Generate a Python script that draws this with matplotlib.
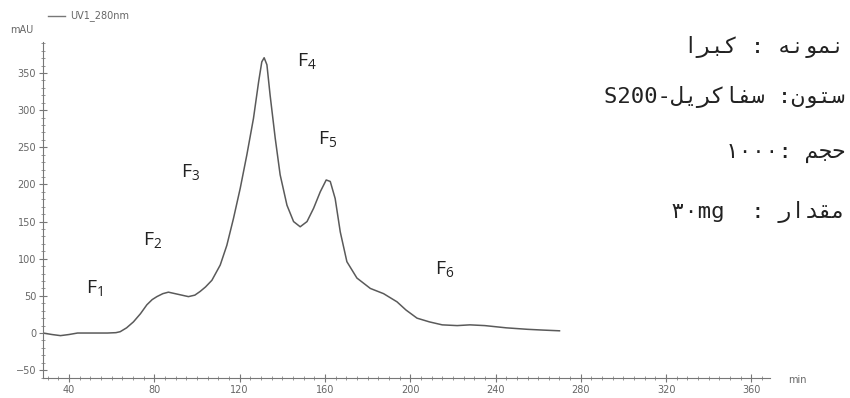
import matplotlib
matplotlib.use("Agg")
import matplotlib.pyplot as plt
from matplotlib.ticker import MultipleLocator

# chromatogram (time in min, absorbance in mAU)
time_min = [27.8, 32, 36, 40, 44, 50, 58, 62, 64.0, 67, 70.2, 73.5, 76.5, 79, 81.2, 84, 86.6,
            91.3, 96.0, 99, 101.5, 104, 107, 110.9, 114.0, 117.1, 120.3, 123.4, 126.5, 128.9,
            130.4, 131.5, 132.8, 134.3, 136.7, 139.0, 142.2, 145.3, 148.4, 151.6, 154.7, 157.8,
            160.6, 162.5, 164.8, 167.2, 170.3, 175.0, 181.3, 187.5, 193.8, 198, 203.2, 209,
            215, 222, 228, 235, 245, 255, 262, 270]
uv_mau = [0, -2, -3.5, -2, 0, 0, 0, 0.5, 1.8, 7, 15, 26, 38, 45, 49, 53, 55,
          52, 49, 51, 56, 62, 71, 91.5, 118, 154, 195, 240, 289, 338,
          365, 370.5, 361, 320, 262, 213, 172, 150, 143, 150, 168, 190,
          206, 204, 181, 136, 96, 74, 60, 53, 42, 31, 20, 15,
          11, 10, 11, 10, 7, 5, 4, 3]

peak_names = ["1", "2", "3", "4", "5", "6"]
peak_x = [52, 79, 97, 151.5, 161.5, 216]
peak_y = [60, 124, 216, 365, 260, 85]

info_lines = ["نمونه : کبرا", "ستون: سفاکریل-S200", "حجم :۱۰۰۰", "مقدار :  ۳۰mg"]

# simple Persian shaping (matplotlib has no bidi / shaping)
FORMS = {
    "ا": ("\uFE8D", "\uFE8E", None, None),
    "ب": ("\uFE8F", "\uFE90", "\uFE91", "\uFE92"),
    "ت": ("\uFE95", "\uFE96", "\uFE97", "\uFE98"),
    "ج": ("\uFE9D", "\uFE9E", "\uFE9F", "\uFEA0"),
    "ح": ("\uFEA1", "\uFEA2", "\uFEA3", "\uFEA4"),
    "د": ("\uFEA9", "\uFEAA", None, None),
    "ر": ("\uFEAD", "\uFEAE", None, None),
    "س": ("\uFEB1", "\uFEB2", "\uFEB3", "\uFEB4"),
    "ف": ("\uFED1", "\uFED2", "\uFED3", "\uFED4"),
    "ق": ("\uFED5", "\uFED6", "\uFED7", "\uFED8"),
    "ل": ("\uFEDD", "\uFEDE", "\uFEDF", "\uFEE0"),
    "م": ("\uFEE1", "\uFEE2", "\uFEE3", "\uFEE4"),
    "ن": ("\uFEE5", "\uFEE6", "\uFEE7", "\uFEE8"),
    "ه": ("\uFEE9", "\uFEEA", "\uFEEB", "\uFEEC"),
    "و": ("\uFEED", "\uFEEE", None, None),
    "ک": ("\uFB8E", "\uFB8F", "\uFB90", "\uFB91"),
    "ی": ("\uFBFC", "\uFBFD", "\uFBFE", "\uFBFF"),
}


def shape(text):
    out = []
    for i, ch in enumerate(text):
        if ch not in FORMS:
            out.append(ch)
            continue
        prev = text[i - 1] if i > 0 else ""
        nxt = text[i + 1] if i + 1 < len(text) else ""
        join_prev = prev in FORMS and FORMS[prev][2] is not None
        join_next = nxt in FORMS and FORMS[ch][2] is not None
        iso, fin, ini, med = FORMS[ch]
        if join_prev and join_next:
            out.append(med)
        elif join_prev:
            out.append(fin)
        elif join_next:
            out.append(ini)
        else:
            out.append(iso)
    # visual order: reverse, but keep latin / digit runs left to right
    rev = "".join(out)[::-1]
    res, run = [], ""
    for ch in rev:
        if ch.isascii() and ch.isalnum() or ch in "۰۱۲۳۴۵۶۷۸۹":
            run += ch
        else:
            res.append(run[::-1])
            run = ""
            res.append(ch)
    res.append(run[::-1])
    return "".join(res)


fig = plt.figure(figsize=(8.5, 3.98), dpi=100)
ax = fig.add_axes([0.0506, 0.0503, 0.855, 0.844])

ax.plot(time_min, uv_mau, color="#5a5a5a", linewidth=1.1)

ax.set_xlim(27.8, 368.6)
ax.set_ylim(-60.5, 391.6)
ax.spines["top"].set_visible(False)
ax.spines["right"].set_visible(False)
for s in ["left", "bottom"]:
    ax.spines[s].set_color("#777777")
    ax.spines[s].set_linewidth(0.8)

ax.xaxis.set_major_locator(MultipleLocator(40))
ax.xaxis.set_minor_locator(MultipleLocator(5))
ax.yaxis.set_major_locator(MultipleLocator(50))
ax.yaxis.set_minor_locator(MultipleLocator(10))
ax.tick_params(which="major", direction="inout", length=6, width=0.8, color="#777777",
               labelsize=7, labelcolor="#666666", pad=2)
ax.tick_params(which="minor", direction="inout", length=3, width=0.6, color="#888888")

fig.text(22 / 850, 1 - 30 / 398, "mAU", fontsize=7, color="#666666", ha="center", va="center")
fig.text(797 / 850, 1 - 380 / 398, "min", fontsize=7, color="#666666", ha="center", va="center")
fig.add_artist(plt.Line2D([48 / 850, 65 / 850], [1 - 16 / 398, 1 - 16 / 398], color="#777777", linewidth=1))
fig.text(70 / 850, 1 - 16 / 398, "UV1_280nm", fontsize=7, color="#666666", ha="left", va="center")

for n, x, y in zip(peak_names, peak_x, peak_y):
    ax.text(x, y, r"F$_{\mathregular{" + n + "}}$", fontsize=14, color="#222222",
            ha="center", va="center", family="Open Sans")

info_y = [47, 97, 153, 212]
for line, y in zip(info_lines, info_y):
    fig.text(845 / 850, 1 - y / 398, shape(line), fontsize=16, color="#222222",
             ha="right", va="center", family=["DejaVu Sans Mono", "DejaVu Sans"])

fig.savefig("out.png", dpi=100)
